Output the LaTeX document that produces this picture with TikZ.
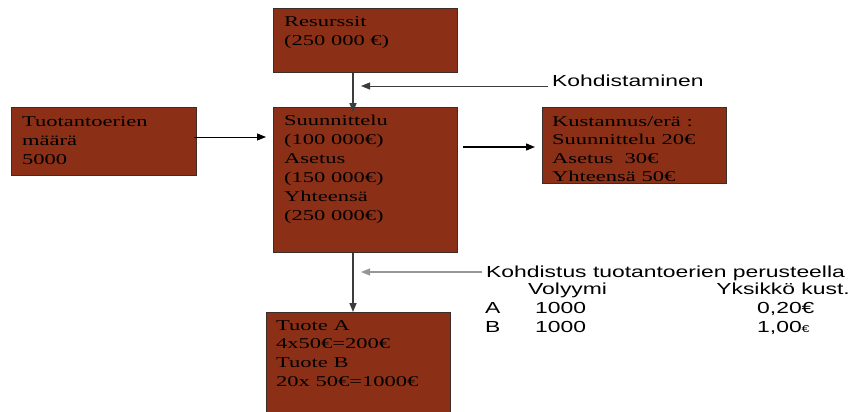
\documentclass[tikz,border=0pt]{standalone}
\usepackage{fontspec}
\usetikzlibrary{arrows.meta}
\newfontfamily\boxfont[FakeStretch=1.5]{Liberation Serif}
\newfontfamily\labfont[FakeStretch=1.43]{Liberation Sans}
\definecolor{boxbrown}{RGB}{140,47,23}
\definecolor{boxedge}{RGB}{60,45,40}
\definecolor{darkline}{RGB}{60,60,60}
\definecolor{lightline}{RGB}{150,150,150}
\tikzset{
  box/.style={draw=boxedge, line width=1pt, fill=boxbrown, anchor=north west, inner sep=0pt},
  boxtext/.style={anchor=north west, inner sep=0pt, align=left, text=black,
    font=\boxfont\fontsize{15}{19}\selectfont},
  lab/.style={inner sep=0pt, font=\labfont\fontsize{16}{19}\selectfont},
  arr/.style={-{Triangle[length=9pt,width=7pt]}},
  vline/.style={arr, draw=darkline, line width=1.5pt},
}
\begin{document}
\begin{tikzpicture}[x=1pt,y=-1pt]
\useasboundingbox (0,0) rectangle (854,412);
\clip (0,0) rectangle (854,412);
% boxes
\node[box, minimum width=184pt, minimum height=64pt] (res) at (273,8) {};
\node[box, minimum width=185pt, minimum height=68pt] (tuot) at (11,107) {};
\node[box, minimum width=184pt, minimum height=145pt] (suun) at (273,107) {};
\node[box, minimum width=184pt, minimum height=76pt] (kust) at (542,107) {};
\node[box, minimum width=184pt, minimum height=110pt] (tuote) at (266,312) {};
% box texts
\node[boxtext] (restext) at (284,16) {Resurssit\\(250 000 €)};
\node[boxtext] (tuottext) at (22,116) {Tuotantoerien\\määrä\\5000};
\node[boxtext] (suuntext) at (284,115) {Suunnittelu\\(100 000€)\\Asetus\\(150 000€)\\Yhteensä\\(250 000€)};
\node[boxtext, font=\boxfont\fontsize{15}{18.5}\selectfont] (kusttext) at (552,116) {Kustannus/erä :\\Suunnittelu 20€\\Asetus~ 30€\\Yhteensä 50€};
\node[boxtext, font=\boxfont\fontsize{15}{18.7}\selectfont] (tuotetext) at (276,320) {Tuote A\\4x50€=200€\\Tuote B\\20x 50€=1000€};
% labels
\node[lab, anchor=base west] (kohd) at (552,86) {Kohdistaminen};
\node[lab, anchor=base west] (kohdt) at (486,277) {Kohdistus tuotantoerien perusteella};
\node[lab, anchor=base west] (vol) at (528,294) {Volyymi};
\node[lab, anchor=base east] (yks) at (850,294) {Yksikkö kust.};
\node[lab, anchor=base west] (ra) at (485,313) {A};
\node[lab, anchor=base west] (rav) at (535,313) {1000};
\node[lab, anchor=base west] (rak) at (757,313) {0,20€};
\node[lab, anchor=base west] (rb) at (485,332) {B};
\node[lab, anchor=base west] (rbv) at (535,332) {1000};
\node[lab, anchor=base west] (rbk) at (757,332) {1,00{\fontsize{10}{10}\selectfont €}};
% connector coordinates
\coordinate (vx) at (353,0);
\coordinate (k1) at (361,86);
\coordinate (k2) at (361,272);
\coordinate (h1) at (0,137);
\coordinate (h2) at (0,147);
% connectors
\draw[vline] (res.south -| vx) -- ([yshift=-5pt]suun.north -| vx);
\draw[vline] (suun.south -| vx) -- (tuote.north -| vx);
\draw[arr, draw=darkline, line width=1pt] ([xshift=-4pt]kohd.base west) -- (k1);
\draw[arr, draw=lightline, line width=1.2pt, -{Triangle[length=9pt,width=7pt]}] ([xshift=-4pt,yshift=5pt]kohdt.base west) -- (k2);
\draw[arr, draw=black, line width=0.8pt] ([xshift=-3pt]tuot.east |- h1) -- ([xshift=-7pt]suun.west |- h1);
\draw[arr, draw=black, line width=1.3pt] ([xshift=5pt]suun.east |- h2) -- ([xshift=-7pt]kust.west |- h2);
\end{tikzpicture}
\end{document}
